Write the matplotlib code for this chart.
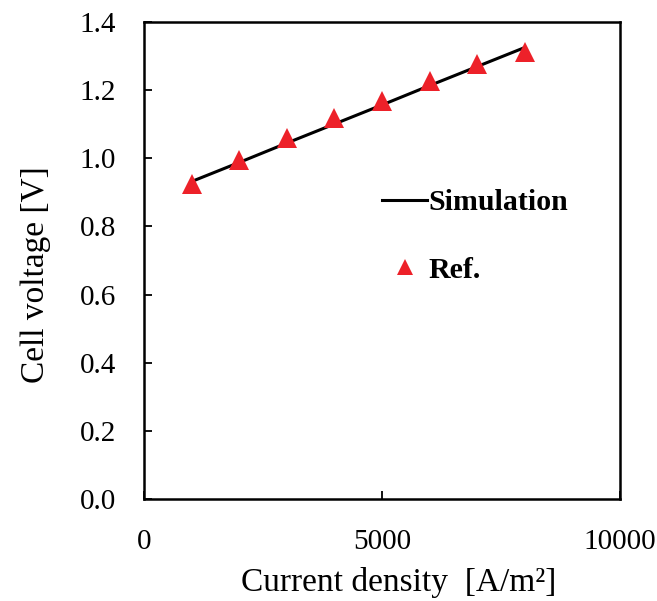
import numpy as np
import matplotlib.pyplot as plt
from matplotlib.lines import Line2D

plt.rcParams['font.family'] = ['Liberation Serif', 'DejaVu Serif']

# current density [A/m2]
current = np.array([1000, 2000, 3000, 4000, 5000, 6000, 7000, 8000])
# simulated cell voltage [V]
v_sim = np.array([0.932, 0.988, 1.045, 1.101, 1.157, 1.214, 1.270, 1.326])
# reference data [V]
v_ref = np.array([0.924, 0.994, 1.060, 1.120, 1.169, 1.226, 1.276, 1.312])

red = '#ed2129'

fig = plt.figure(figsize=(6.57, 6.01), dpi=100)
ax = fig.add_axes([0.219, 0.170, 0.725, 0.793])

ax.plot(current, v_sim, color='black', lw=2.2, zorder=2)
ax.plot(current, v_ref, ls='none', marker='^', ms=15, color=red,
        markeredgewidth=0, zorder=3)

ax.set_xlim(0, 10000)
ax.set_ylim(0, 1.4)
ax.set_xticks([0, 5000, 10000])
ax.set_yticks(np.arange(0, 1.41, 0.2))
ax.set_yticklabels([f'{v:.1f}' for v in np.arange(0, 1.41, 0.2)])

for s in ax.spines.values():
    s.set_linewidth(1.8)
ax.tick_params(axis='both', direction='in', length=6, width=1.3,
               labelsize=21, top=False, right=False)
ax.tick_params(axis='y', pad=20)
ax.tick_params(axis='x', pad=22)

ax.set_xlabel('Current density  [A/m²]', fontsize=24)
ax.set_ylabel('Cell voltage [V]', fontsize=24)
ax.xaxis.set_label_coords(0.534, -0.142)
ax.yaxis.set_label_coords(-0.196, 0.47)

handles = [Line2D([], [], color='black', lw=2.2),
           Line2D([], [], ls='none', marker='^', ms=11, color=red,
                  markeredgewidth=0)]
leg = ax.legend(handles, ['Simulation', 'Ref.'], frameon=False,
                prop={'weight': 'bold', 'size': 21.5},
                loc='upper left', bbox_to_anchor=(0.444, 0.706),
                handlelength=1.5, handletextpad=0.05, labelspacing=1.35)

fig.savefig('out.png', dpi=100)
